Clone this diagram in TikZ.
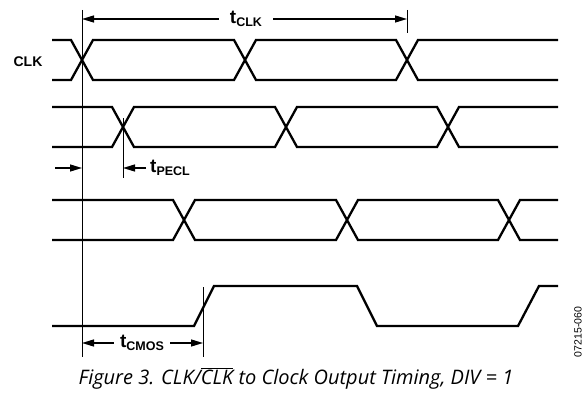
\documentclass[tikz,border=0pt]{standalone}
\usepackage{fontspec}
\setmainfont{Liberation Sans}
\newfontfamily\capfont{Open Sans}
\usetikzlibrary{arrows.meta}

\newcommand{\tlabel}[1]{t\raisebox{-0.35ex}{\fontsize{12.5}{12.5}\selectfont #1}}

\begin{document}
\begin{tikzpicture}[x=1pt,y=-1pt,
  wave/.style={line width=2.3pt},
  thinline/.style={line width=0.9pt},
  dimarrow/.style={line width=1.3pt,-{Triangle[length=12pt,width=7pt]}},
  tlab/.style={font=\bfseries\fontsize{19}{19}\selectfont}]
\useasboundingbox (0,0) rectangle (584,396);

% Differential pairs, one crossing every half period
\foreach \hi/\lo/\ca/\cb/\cc in {40/80/82/245/407, 107/147/123/286/448, 200/240/184/347/509} {
  \draw[wave] (52,\hi) -- (\ca-11,\hi) -- (\ca+11,\lo) -- (\cb-11,\lo) -- (\cb+11,\hi)
    -- (\cc-11,\hi) -- (\cc+11,\lo) -- (558,\lo);
  \draw[wave] (52,\lo) -- (\ca-11,\lo) -- (\ca+11,\hi) -- (\cb-11,\hi) -- (\cb+11,\lo)
    -- (\cc-11,\lo) -- (\cc+11,\hi) -- (558,\hi);
}

% CMOS output
\draw[wave] (52,326) -- (194,326) -- (214,286) -- (357,286) -- (377,326)
  -- (518,326) -- (539,286) -- (558,286);

\node[font=\bfseries\fontsize{14}{14}\selectfont] (clk) at (28,62) {CLK};

% Reference edge and ticks
\coordinate (ref top) at (82,10);
\coordinate (ref bot) at (82,357);
\draw[thinline] (ref top) -- (ref bot);
\draw[thinline] (407,10) coordinate (clk tick top) -- (407,33) coordinate (clk tick bot);
\draw[thinline] (123,118) coordinate (pecl tick top) -- (123,178) coordinate (pecl tick bot);
\draw[thinline] (203,287) coordinate (cmos tick top) -- (203,357) coordinate (cmos tick bot);

% t_CLK
\coordinate (clk a) at (82,19);
\coordinate (clk b) at (407,19);
\node[tlab, inner sep=11pt] (tclk) at (246,19) {\tlabel{CLK}};
\draw[dimarrow] (tclk.west) -- (clk a);
\draw[dimarrow] (tclk.east) -- (clk b);

% t_PECL
\coordinate (pecl in) at (55,168);
\coordinate (pecl a) at (82,168);
\coordinate (pecl b) at (123,168);
\node[tlab, inner sep=4pt, anchor=west] (tpecl) at (146,168) {\tlabel{PECL}};
\draw[dimarrow] (pecl in) -- (pecl a);
\draw[dimarrow] (tpecl.west) -- (pecl b);

% t_CMOS
\coordinate (cmos a) at (82,343);
\coordinate (cmos b) at (203,343);
\node[tlab, inner sep=6pt] (tcmos) at (142,343) {\tlabel{CMOS}};
\draw[dimarrow] (tcmos.west) -- (cmos a);
\draw[dimarrow] (tcmos.east) -- (cmos b);

% Caption and figure number
\node[font=\capfont\itshape\fontsize{20}{20}\selectfont, anchor=base] (caption) at (296,384)
  {Figure 3. CLK/$\overline{\mbox{CLK}}$ to Clock Output Timing, DIV = 1};
\node[rotate=90, font=\fontsize{10.5}{10.5}\selectfont] (fignum) at (578,332) {07215-060};
\end{tikzpicture}
\end{document}
